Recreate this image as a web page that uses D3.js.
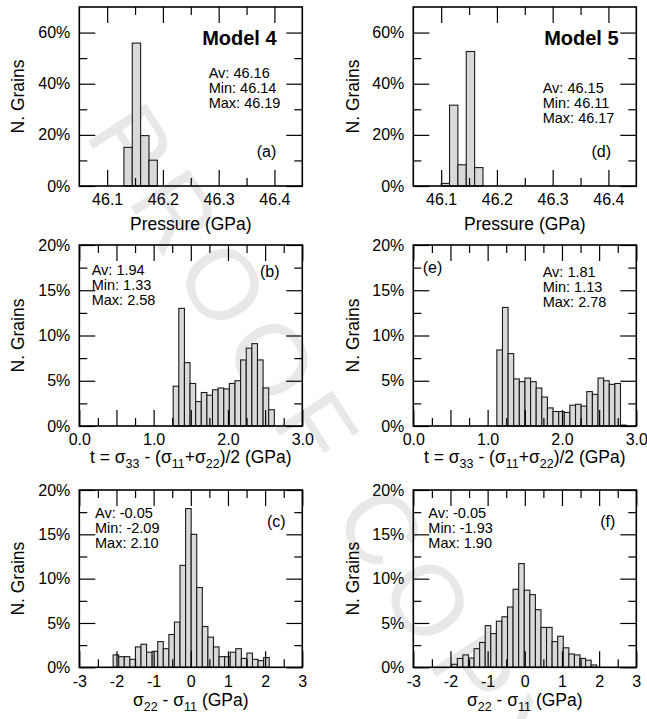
<!DOCTYPE html>
<html>
<head>
<meta charset="utf-8">
<script src="https://cdn.jsdelivr.net/npm/d3@7"></script>
<style>
    body { margin: 0; background: #fff; }
    svg { display: block; }
</style>
</head>
<body>
<div class="plot"></div>
<script>
// % of grains in each bin
const pressureBinWidth = 0.015;
const pressureStart4 = 46.13;
const pressureModel4 = [15.1, 55.9, 19.7, 10.1];
const pressureStart5 = 46.10;
const pressureModel5 = [1.0, 31.6, 8.3, 52.6, 7.2];

const tBinWidth = 0.0756;
const tStart4 = 1.263;
const tModel4 = [4.4, 13.0, 7.0, 4.7, 2.7, 3.7, 3.4, 4.0, 4.2, 4.1, 4.7, 5.0, 7.3, 8.6, 9.1, 7.3, 4.2, 1.8];
const tStart5 = 1.124;
const tModel5 = [8.4, 13.1, 8.0, 5.2, 4.9, 5.3, 4.9, 4.2, 3.2, 2.0, 1.6, 1.6, 1.5, 2.3, 2.4, 2.2, 3.8, 3.5, 5.3, 5.0, 4.6, 4.7, 0.1];

const shearBinWidth = 0.15;
const shearStart4 = -2.09;
const shearModel4 = [1.4, 1.2, 1.2, 0.9, 2.3, 2.6, 1.7, 1.8, 2.9, 2.1, 3.7, 5.1, 11.5, 17.9, 15.0, 9.0, 4.6, 3.4, 2.3, 1.2, 1.2, 1.7, 2.1, 1.0, 1.6, 0.9, 0.75, 1.1];
const shearStart5 = -1.965;
const shearModel5 = [0.34, 1.0, 1.4, 1.05, 2.1, 2.8, 4.7, 3.8, 5.2, 5.7, 6.8, 8.8, 11.7, 8.7, 8.2, 6.5, 4.5, 4.5, 2.9, 3.5, 2.2, 1.5, 1.4, 1.0, 0.8, 0.26];

const stats = {
    a: ["Av: 46.16", "Min: 46.14", "Max: 46.19"],
    d: ["Av: 46.15", "Min: 46.11", "Max: 46.17"],
    b: ["Av: 1.94", "Min: 1.33", "Max: 2.58"],
    e: ["Av: 1.81", "Min: 1.13", "Max: 2.78"],
    c: ["Av: -0.05", "Min: -2.09", "Max: 2.10"],
    f: ["Av: -0.05", "Min: -1.93", "Max: 1.90"]
};

// axis ticks
const pressureDomain = [46.05, 46.45];
const pressureMajor = [46.1, 46.2, 46.3, 46.4];
const pressureMinor = [46.15, 46.25, 46.35];
const tDomain = [0, 3];
const tMajor = [0, 0.5, 1, 1.5, 2, 2.5, 3];
const tMinor = [0.25, 0.75, 1.25, 1.75, 2.25, 2.75];
const shearDomain = [-3, 3];
const shearMajor = [-3, -2, -1, 0, 1, 2, 3];
const shearMinor = [-2.5, -1.5, -0.5, 0.5, 1.5, 2.5];
const pctTopMajor = [0, 20, 40, 60], pctTopMinor = [10, 30, 50];
const pctMajor = [0, 5, 10, 15, 20], pctMinor = [2.5, 7.5, 12.5, 17.5];

const pressureTitle = [{ t: "Pressure (GPa)" }];
const tTitle = [{ t: "t = σ" }, { t: "33", sub: true }, { t: " - (σ" }, { t: "11", sub: true }, { t: "+σ" }, { t: "22", sub: true }, { t: ")/2 (GPa)" }];
const shearTitle = [{ t: "σ" }, { t: "22", sub: true }, { t: " - σ" }, { t: "11", sub: true }, { t: " (GPa)" }];

const font = "'Liberation Sans', Arial, Helvetica, sans-serif";
const W = 647, H = 719;
const cols = [79.3, 413.3], panelW = 223;
const yTitleX = [18.3, 352.7];
const rows = [[7, 186], [245, 426], [490, 667.3]];

const svg = d3.select(".plot").append("svg")
    .attr("width", W).attr("height", H)
    .attr("font-family", font);

// proof watermark, behind everything
svg.append("text")
    .attr("transform", "translate(113,115) rotate(57)")
    .attr("dominant-baseline", "central")
    .attr("font-size", 100)
    .attr("letter-spacing", 12)
    .attr("fill", "#e8e8e8")
    .text("PROOF COPY");

const panels = [
    { id: "a", col: 0, row: 0, values: pressureModel4, start: pressureStart4, bw: pressureBinWidth,
      xd: pressureDomain, xMaj: pressureMajor, xMin: pressureMinor, xFmt: d => d.toFixed(1),
      yMax: 70, yMaj: pctTopMajor, yMin: pctTopMinor, title: pressureTitle, titleY: 44,
      model: "Model 4", modelPos: [-25.7, 38], statsPos: [129.4, 71.3], tag: "(a)", tagPos: [-26, 149.7, "end"] },
    { id: "d", col: 1, row: 0, values: pressureModel5, start: pressureStart5, bw: pressureBinWidth,
      xd: pressureDomain, xMaj: pressureMajor, xMin: pressureMinor, xFmt: d => d.toFixed(1),
      yMax: 70, yMaj: pctTopMajor, yMin: pctTopMinor, title: pressureTitle, titleY: 44,
      model: "Model 5", modelPos: [-17.7, 38], statsPos: [129.4, 85.7], tag: "(d)", tagPos: [-25.3, 149.7, "end"] },
    { id: "b", col: 0, row: 1, values: tModel4, start: tStart4, bw: tBinWidth,
      xd: tDomain, xMaj: tMajor, xMin: tMinor, xFmt: d => Number.isInteger(d) ? d.toFixed(1) : "",
      yMax: 20, yMaj: pctMajor, yMin: pctMinor, title: tTitle, titleY: 37,
      statsPos: [12.4, 30], tag: "(b)", tagPos: [-22.7, 31.7, "end"] },
    { id: "e", col: 1, row: 1, values: tModel5, start: tStart5, bw: tBinWidth,
      xd: tDomain, xMaj: tMajor, xMin: tMinor, xFmt: d => Number.isInteger(d) ? d.toFixed(1) : "",
      yMax: 20, yMaj: pctMajor, yMin: pctMinor, title: tTitle, titleY: 37,
      statsPos: [129.4, 31.7], tag: "(e)", tagPos: [9.4, 27.7, "start"] },
    { id: "c", col: 0, row: 2, values: shearModel4, start: shearStart4, bw: shearBinWidth,
      xd: shearDomain, xMaj: shearMajor, xMin: shearMinor, xFmt: d => d,
      yMax: 20, yMaj: pctMajor, yMin: pctMinor, title: shearTitle, titleY: 39,
      statsPos: [15.7, 27.5], tag: "(c)", tagPos: [-16.7, 36.7, "end"] },
    { id: "f", col: 1, row: 2, values: shearModel5, start: shearStart5, bw: shearBinWidth,
      xd: shearDomain, xMaj: shearMajor, xMin: shearMinor, xFmt: d => d,
      yMax: 20, yMaj: pctMajor, yMin: pctMinor, title: shearTitle, titleY: 39,
      statsPos: [15, 27.7], tag: "(f)", tagPos: [-21, 36.7, "end"] }
];

function styleAxis(g) {
    g.attr("font-family", font).attr("font-size", 16);
    g.select(".domain").remove();
    g.selectAll("line").attr("stroke-width", 1.2);
    // drop empty label nodes left by unlabeled majors
    g.selectAll("text").filter(function () { return this.textContent === ""; }).remove();
}

panels.forEach(p => {
    const left = cols[p.col], top = rows[p.row][0];
    const w = panelW, h = rows[p.row][1] - rows[p.row][0];

    const g = svg.append("g").attr("transform", `translate(${left},${top})`);

    const x = d3.scaleLinear().domain(p.xd).range([0, w]);
    const y = d3.scaleLinear().domain([0, p.yMax]).range([h, 0]);

    // bars
    g.selectAll("rect.bar")
        .data(p.values)
        .enter().append("rect")
        .attr("class", "bar")
        .attr("x", (d, i) => x(p.start + i * p.bw))
        .attr("width", (d, i) => x(p.start + (i + 1) * p.bw) - x(p.start + i * p.bw))
        .attr("y", d => y(d))
        .attr("height", d => h - y(d))
        .attr("fill", "#d9d9d9")
        .attr("stroke", "#1a1a1a")
        .attr("stroke-width", 1.1);

    // inward ticks on all four sides
    g.append("g").attr("transform", `translate(0,${h})`)
        .call(d3.axisBottom(x).tickValues(p.xMaj).tickSize(-16).tickPadding(8).tickFormat(p.xFmt))
        .call(styleAxis);
    g.append("g").attr("transform", `translate(0,${h})`)
        .call(d3.axisBottom(x).tickValues(p.xMin).tickSize(-8).tickFormat(""))
        .call(styleAxis);
    g.append("g")
        .call(d3.axisTop(x).tickValues(p.xMaj).tickSize(-16).tickFormat(""))
        .call(styleAxis);
    g.append("g")
        .call(d3.axisTop(x).tickValues(p.xMin).tickSize(-8).tickFormat(""))
        .call(styleAxis);
    g.append("g")
        .call(d3.axisLeft(y).tickValues(p.yMaj).tickSize(-16).tickPadding(9).tickFormat(d => d + "%"))
        .call(styleAxis);
    g.append("g")
        .call(d3.axisLeft(y).tickValues(p.yMin).tickSize(-8).tickFormat(""))
        .call(styleAxis);
    g.append("g").attr("transform", `translate(${w},0)`)
        .call(d3.axisRight(y).tickValues(p.yMaj).tickSize(-16).tickFormat(""))
        .call(styleAxis);
    g.append("g").attr("transform", `translate(${w},0)`)
        .call(d3.axisRight(y).tickValues(p.yMin).tickSize(-8).tickFormat(""))
        .call(styleAxis);

    g.append("rect")
        .attr("width", w).attr("height", h)
        .attr("fill", "none")
        .attr("stroke", "#000")
        .attr("stroke-width", 1.6);

    // axis titles
    g.append("text")
        .attr("transform", `translate(${yTitleX[p.col] - left},${h / 2}) rotate(-90)`)
        .attr("text-anchor", "middle")
        .attr("dominant-baseline", "central")
        .attr("font-size", 17.5)
        .text("N. Grains");

    const xt = g.append("text")
        .attr("x", w / 2).attr("y", h + p.titleY)
        .attr("text-anchor", "middle")
        .attr("font-size", 17.5);
    let shifted = false;
    p.title.forEach(part => {
        const ts = xt.append("tspan").text(part.t);
        if (part.sub && !shifted) { ts.attr("dy", 5).attr("font-size", 12.5); shifted = true; }
        else if (part.sub) { ts.attr("font-size", 12.5); }
        else if (shifted) { ts.attr("dy", -5); shifted = false; }
    });

    // stats box
    g.append("g")
        .attr("transform", `translate(${p.statsPos[0]},${p.statsPos[1]})`)
        .selectAll("text")
        .data(stats[p.id])
        .enter().append("text")
        .attr("y", (d, i) => i * 15)
        .attr("font-size", 14.5)
        .text(d => d);

    g.append("text")
        .attr("x", p.tagPos[2] === "end" ? w + p.tagPos[0] : p.tagPos[0])
        .attr("y", p.tagPos[1])
        .attr("text-anchor", p.tagPos[2])
        .attr("font-size", 16)
        .text(p.tag);

    if (p.model) {
        g.append("text")
            .attr("x", w + p.modelPos[0]).attr("y", p.modelPos[1])
            .attr("text-anchor", "end")
            .attr("font-size", 20)
            .attr("font-weight", "bold")
            .text(p.model);
    }
});
</script>
</body>
</html>
